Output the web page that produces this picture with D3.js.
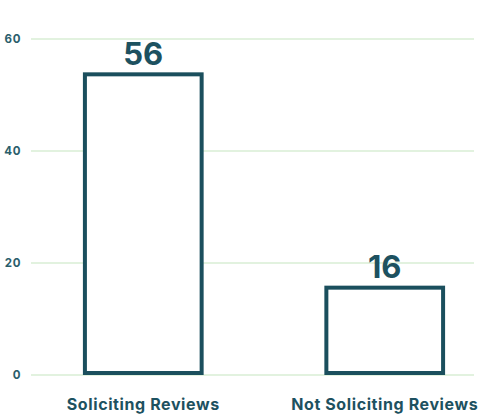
<!DOCTYPE html>
<html>
<head>
<meta charset="utf-8">
<script src="https://cdn.jsdelivr.net/npm/d3@7"></script>
<style>
html,body{margin:0;padding:0;background:#fff;}
svg{display:block;}
text{font-family:Inter,"Open Sans",sans-serif;font-weight:700;fill:#1d5160;}
</style>
</head>
<body>
<svg id="chart" width="479" height="414"></svg>
<script>
const categories = ["Soliciting Reviews", "Not Soliciting Reviews"];
const values = [56, 16];
const yTicks = [0, 20, 40, 60];

const svg = d3.select("#chart");

const y = d3.scaleLinear().domain([0, 60]).range([375, 39]);
const yBar = d3.scaleLinear().domain([0, 60]).range([373, 53]);
const x = d3.scaleBand().domain(categories).range([31, 497]).paddingInner(0.5).paddingOuter(0.215);

// gridlines
svg.append("g").selectAll("line").data(yTicks).join("line")
  .attr("x1", 31).attr("x2", 474)
  .attr("y1", d => y(d)).attr("y2", d => y(d))
  .attr("stroke", "#d9eed4").attr("stroke-width", 1.5);

// y tick labels
svg.append("g").selectAll("text").data(yTicks).join("text")
  .attr("x", 21).attr("y", d => y(d) + 4)
  .attr("text-anchor", "end")
  .style("font-size", "11.5px")
  .style("letter-spacing", "0.6px")
  .style("fill", "#2a5e6c")
  .text(d => d);

// bars
const sw = 4;
svg.append("g").selectAll("rect").data(values).join("rect")
  .attr("x", (d, i) => x(categories[i]) + sw / 2)
  .attr("width", x.bandwidth() - sw)
  .attr("y", d => yBar(d))
  .attr("height", d => yBar(0) - yBar(d))
  .attr("fill", "#fff")
  .attr("stroke", "#1b4f5d")
  .attr("stroke-width", sw);

// value labels
svg.append("g").selectAll("text").data(values).join("text")
  .attr("x", (d, i) => x(categories[i]) + x.bandwidth() / 2)
  .attr("y", d => yBar(d) - 9.5)
  .attr("text-anchor", "middle")
  .style("font-size", "31px")
  .text(d => d);

// x labels
svg.append("g").selectAll("text").data(categories).join("text")
  .attr("x", d => x(d) + x.bandwidth() / 2)
  .attr("y", 410)
  .attr("text-anchor", "middle")
  .style("font-size", "16px")
  .style("letter-spacing", "0.6px")
  .text(d => d);
</script>
</body>
</html>
